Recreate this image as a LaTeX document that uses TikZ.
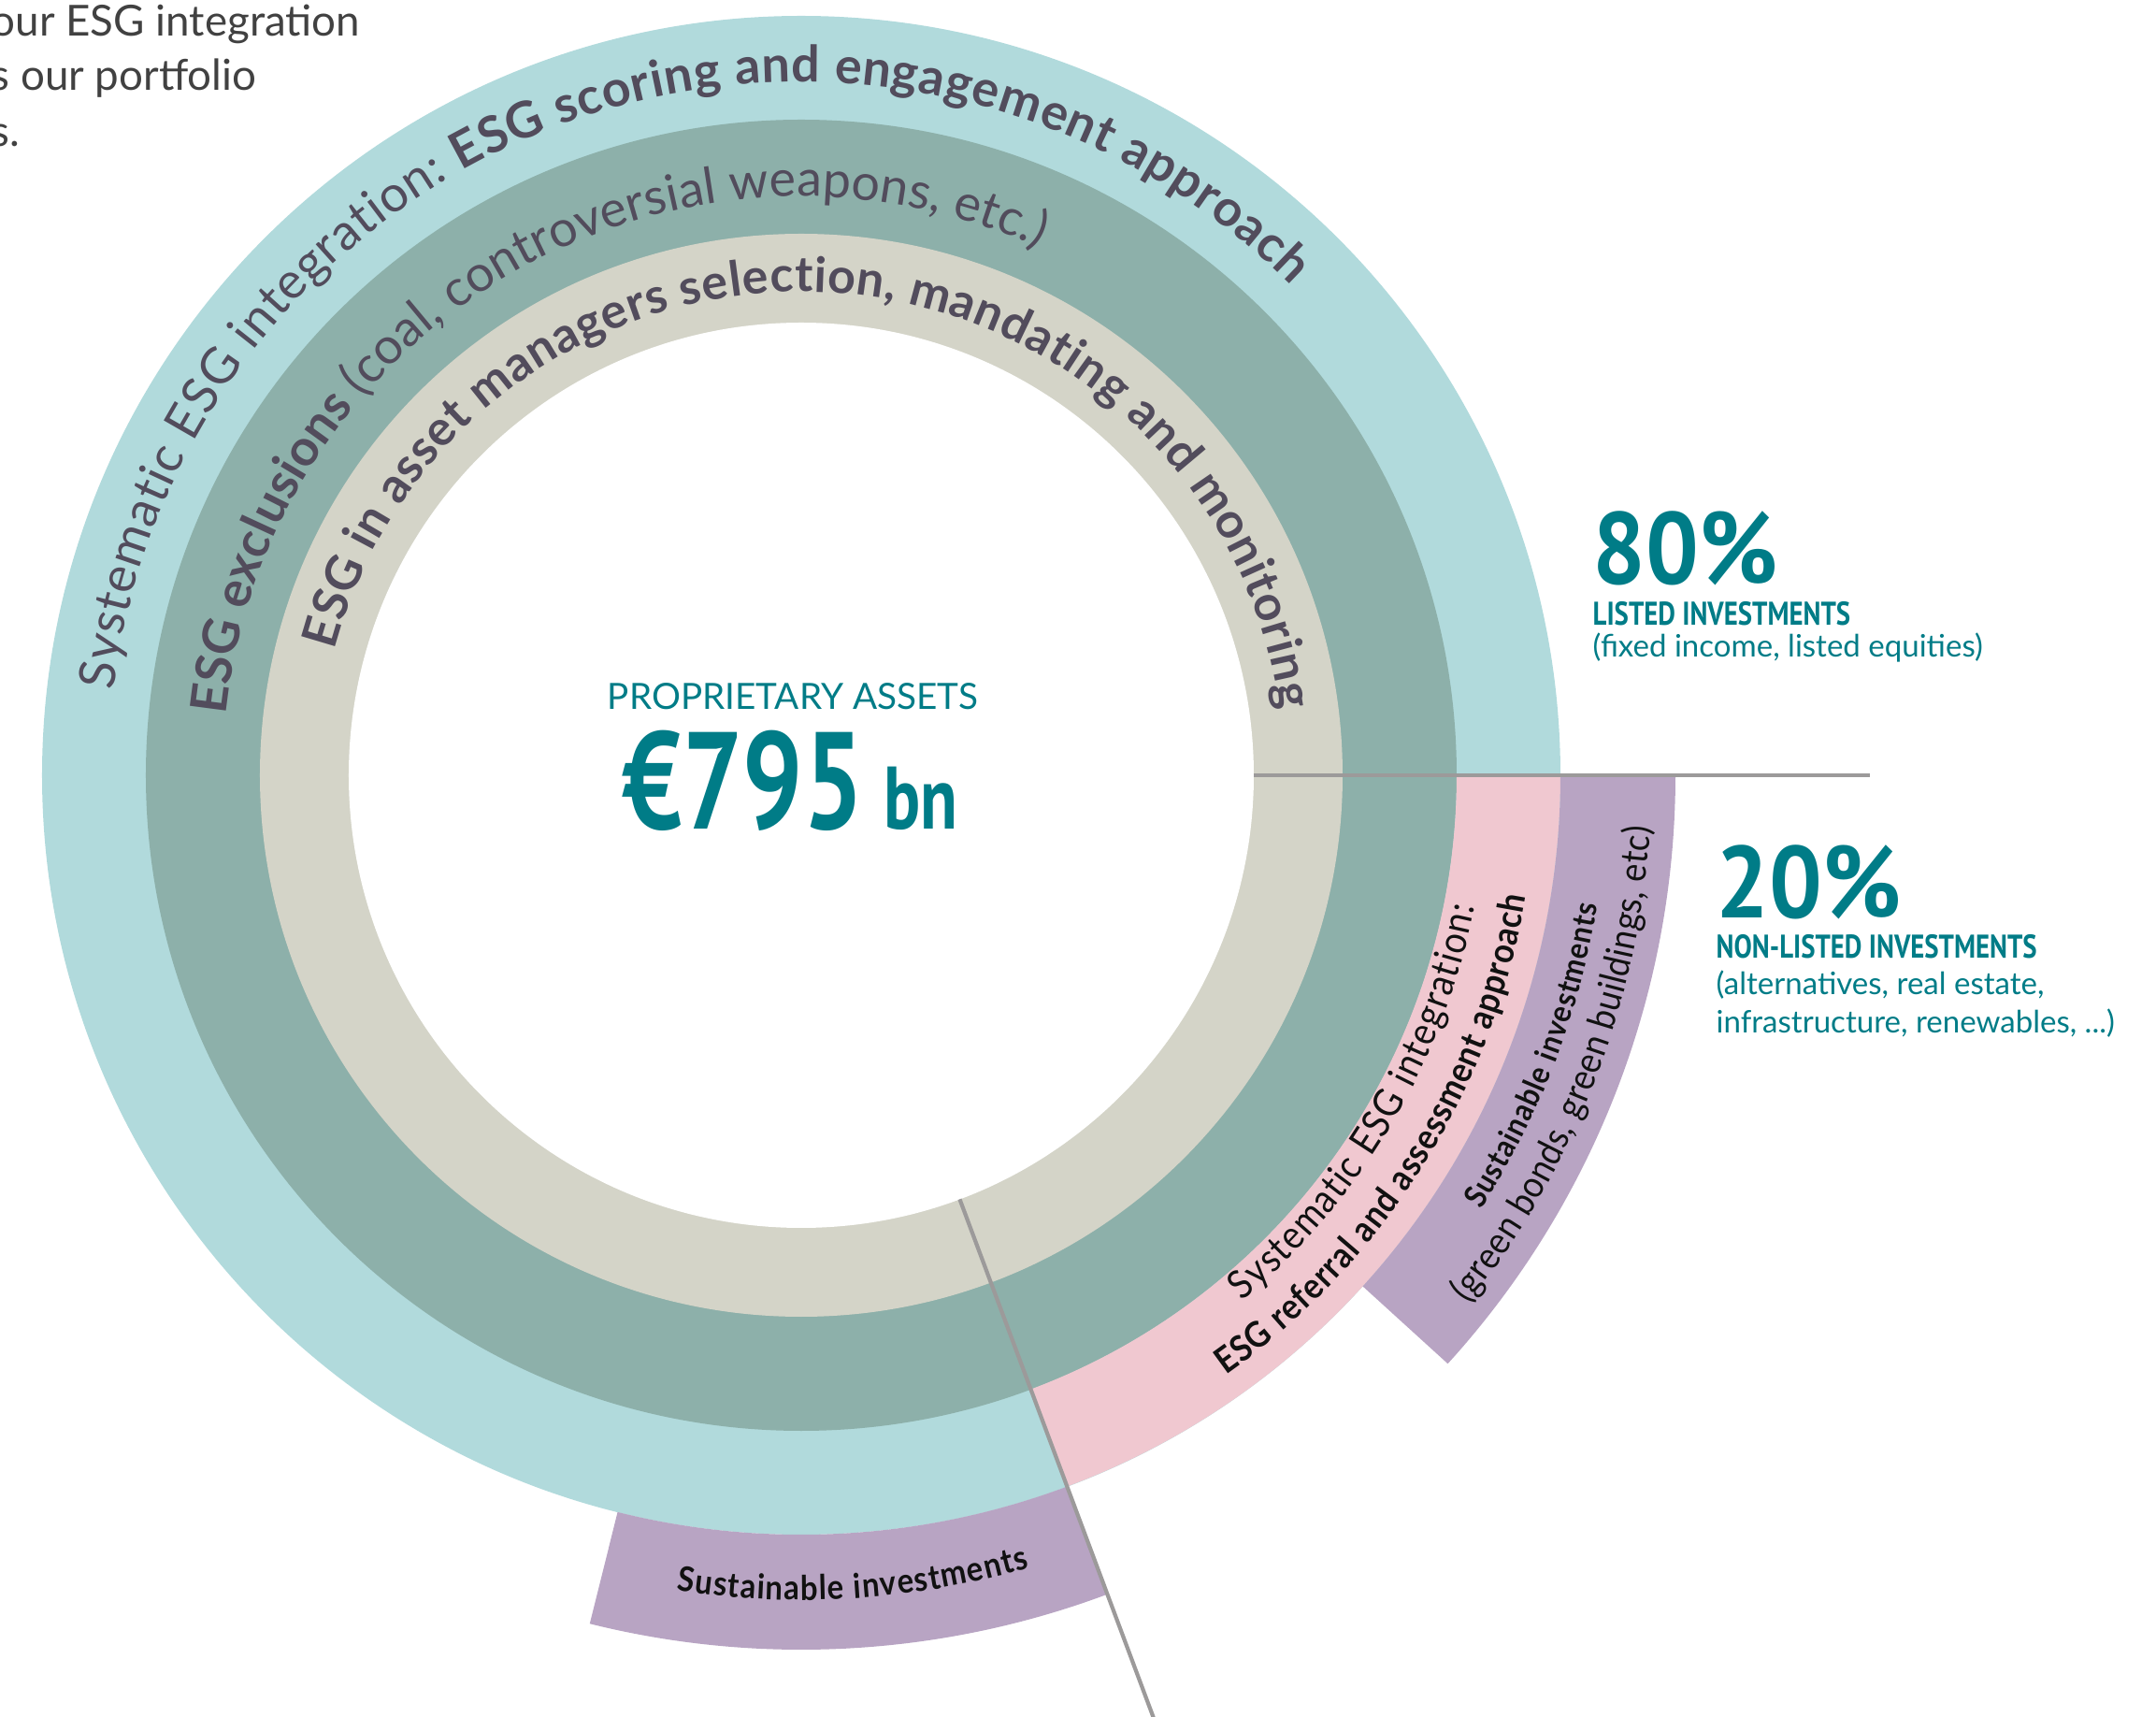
\documentclass[tikz,border=0pt]{standalone}
\usepackage{fontspec}
\setmainfont{Lato}
\newfontfamily\segfont[FakeStretch=0.9]{Lato}
\newfontfamily\condfont[FakeStretch=0.82]{PT Sans}
\newfontfamily\amountfont[FakeStretch=0.77]{PT Sans}
\newfontfamily\pctfont[FakeStretch=0.92]{PT Sans}
\usetikzlibrary{decorations.text}

\definecolor{ringouter}{HTML}{B1DADC}
\definecolor{ringmid}{HTML}{8DB0AA}
\definecolor{ringinner}{HTML}{D4D4C8}
\definecolor{nonlisted}{HTML}{F0C8D0}
\definecolor{sustain}{HTML}{B8A4C3}
\definecolor{divgray}{HTML}{9C9A9A}
\definecolor{ringink}{HTML}{524C5C}
\definecolor{segink}{HTML}{111111}
\definecolor{allteal}{HTML}{007C87}
\definecolor{introgray}{HTML}{414141}

\tikzset{
  arclabel/.style={decorate, decoration={text along path, text align=fit to path, text color=#1}},
  arclabel/.default=ringink,
  divider/.style={draw=divgray, line width=1.2pt},
  sidetext/.style={anchor=base west, inner sep=0pt, text=allteal},
}

\begin{document}
\begin{tikzpicture}
  \useasboundingbox (-8.57,-10.07) rectangle (14.49,8.29);

  % rings
  \fill[ringouter] (0,0) circle (8.12);
  \fill[ringmid] (0,0) circle (7.01);
  \fill[ringinner] (0,0) circle (5.79);
  \fill[white] (0,0) circle (4.84);

  % non-listed part
  \fill[nonlisted] (0:7.01) arc[start angle=0, end angle=-69.5, radius=7.01]
    -- (-69.5:8.12) arc[start angle=-69.5, end angle=0, radius=8.12] -- cycle;
  \fill[sustain] (0:8.12) arc[start angle=0, end angle=-42.3, radius=8.12]
    -- (-42.3:9.35) arc[start angle=-42.3, end angle=0, radius=9.35] -- cycle;
  \fill[sustain] (-104:8.12) arc[start angle=-104, end angle=-69.5, radius=8.12]
    -- (-69.5:9.35) arc[start angle=-69.5, end angle=-104, radius=9.35] -- cycle;

  % dividers
  \coordinate (listedcut) at (0:4.84);
  \coordinate (listedend) at (0:11.43);
  \coordinate (sustaincut) at (-69.5:4.84);
  \coordinate (sustainend) at (-69.5:11.2);
  \draw[divider] (listedcut) -- (listedend);
  \draw[divider] (sustaincut) -- (sustainend);

  % ring labels
  \path[arclabel, decoration={text={|\fontsize{15.3}{18}\selectfont|Systematic ESG integration: |\fontsize{15.3}{18}\selectfont\bfseries|ESG scoring and engagement approach}}]
    (173:7.41) arc[start angle=173, end angle=45, radius=7.41];
  \path[arclabel, decoration={text={|\fontsize{15.3}{18}\selectfont\bfseries|ESG exclusions |\fontsize{15.3}{18}\selectfont|(coal, controversial weapons, etc.)}}]
    (174:6.19) arc[start angle=174, end angle=65.7, radius=6.19];
  \path[arclabel, decoration={text={|\fontsize{14.8}{17}\selectfont\bfseries|ESG in asset managers selection, mandating and monitoring}}]
    (165:5.17) arc[start angle=165, end angle=7.8, radius=5.17];

  % segment labels
  \path[arclabel=segink, decoration={text={|\segfont\fontsize{12}{13}\selectfont|Systematic ESG integration:}}]
    (-50:7.34) arc[start angle=-50, end angle=-11, radius=7.34];
  \path[arclabel=segink, decoration={text={|\segfont\fontsize{10.9}{12}\selectfont\bfseries|ESG referral and assessment approach}}]
    (-54.7:7.86) arc[start angle=-54.7, end angle=-9.5, radius=7.86];
  \path[arclabel=segink, decoration={text={|\segfont\fontsize{9.6}{11}\selectfont\bfseries|Sustainable investments}}]
    (-32.6:8.63) arc[start angle=-32.6, end angle=-9.2, radius=8.63];
  \path[arclabel=segink, decoration={text={|\segfont\fontsize{11.4}{12}\selectfont|(green bonds, green buildings, etc)}}]
    (-38.4:9.1) arc[start angle=-38.4, end angle=-3.5, radius=9.1];
  \path[arclabel=segink, decoration={text={|\segfont\fontsize{10.4}{12}\selectfont\bfseries|Sustainable investments}}]
    (-98.7:8.82) arc[start angle=-98.7, end angle=-73.9, radius=8.82];

  % centre
  \node[sidetext, anchor=base, font=\fontsize{11}{13}\selectfont] (propassets) at (-0.09,0.70) {PROPRIETARY ASSETS};
  \node[sidetext, font=\amountfont\bfseries\fontsize{42}{46}\selectfont] (propvalue) at (-1.92,-0.58) {€795\hspace{0.22cm}{\fontsize{27}{30}\selectfont bn}};

  % shares
  \node[sidetext, font=\pctfont\bfseries\fontsize{31}{34}\selectfont] (listedpct) at (8.46,2.04) {80\%};
  \node[sidetext, font=\condfont\bfseries\fontsize{10}{12}\selectfont] (listedtitle) at (8.46,1.60) {LISTED INVESTMENTS};
  \node[sidetext, font=\fontsize{9.4}{11}\selectfont] (listeddesc) at (8.46,1.26) {(fixed income, listed equities)};
  \node[sidetext, font=\pctfont\bfseries\fontsize{31}{34}\selectfont] (nonlistedpct) at (9.78,-1.53) {20\%};
  \node[sidetext, font=\condfont\bfseries\fontsize{10}{12}\selectfont] (nonlistedtitle) at (9.78,-1.96) {NON-LISTED INVESTMENTS};
  \node[sidetext, font=\fontsize{9.4}{11}\selectfont] (nonlisteddesc) at (9.78,-2.35) {(alternatives, real estate,};
  \node[sidetext, font=\fontsize{9.4}{11}\selectfont] (nonlisteddesctwo) at (9.78,-2.76) {infrastructure, renewables, ...)};

  % intro text, cut at the left edge
  \node[anchor=base west, inner sep=0pt, text=introgray, font=\fontsize{13}{15}\selectfont] (introone) at (-8.67,7.90) {our ESG integration};
  \node[anchor=base west, inner sep=0pt, text=introgray, font=\fontsize{13}{15}\selectfont] (introtwo) at (-8.67,7.32) {s our portfolio};
  \node[anchor=base west, inner sep=0pt, text=introgray, font=\fontsize{13}{15}\selectfont] (introthree) at (-8.67,6.72) {s.};
\end{tikzpicture}
\end{document}
